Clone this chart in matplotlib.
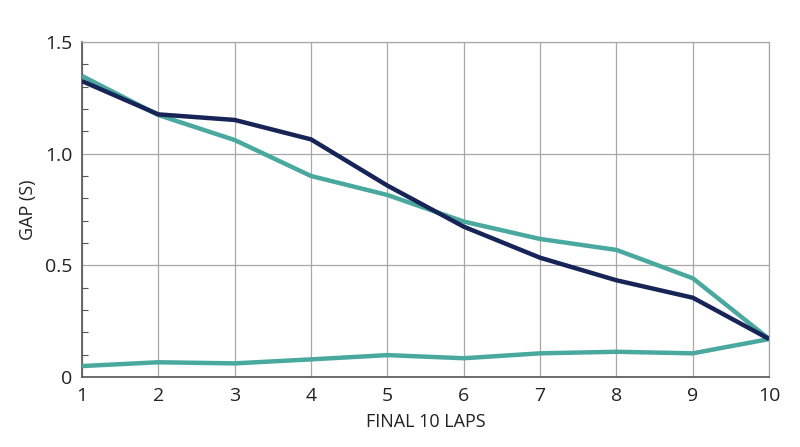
import numpy as np
import matplotlib.pyplot as plt
from matplotlib.ticker import MultipleLocator

plt.rcParams['font.family'] = ['Open Sans', 'DejaVu Sans']

laps = [1, 2, 3, 4, 5, 6, 7, 8, 9, 10]
# navy line
gap_navy = [1.325, 1.176, 1.151, 1.064, 0.857, 0.673, 0.534, 0.433, 0.355, 0.17]
# upper teal line
gap_teal_top = [1.348, 1.173, 1.061, 0.90, 0.815, 0.696, 0.618, 0.569, 0.442, 0.17]
# lower teal line
gap_teal_low = [0.049, 0.066, 0.061, 0.079, 0.098, 0.084, 0.106, 0.113, 0.106, 0.17]

ytick_vals = [0, 0.5, 1.0, 1.5]
ytick_labels = ['0', '0.5', '1.0', '1.5']

navy = '#172458'
teal = '#4aa99e'

fig = plt.figure(figsize=(8, 4.47), dpi=100)
ax = fig.add_axes([0.1025, 0.1566, 0.859, 0.7494])

ax.plot(laps, gap_teal_low, color=teal, lw=3.2, solid_capstyle='butt', zorder=3)
ax.plot(laps, gap_teal_top, color=teal, lw=3.2, solid_capstyle='butt', zorder=3)
ax.plot(laps, gap_navy, color=navy, lw=3.2, solid_capstyle='butt', zorder=4)

ax.set_xlim(1, 10)
ax.set_ylim(0, 1.5)
ax.set_xticks(laps)
ax.set_yticks(ytick_vals)
ax.set_yticklabels(ytick_labels)
ax.yaxis.set_minor_locator(MultipleLocator(0.1))

ax.grid(True, which='major', color='#a8a8a8', lw=0.9)
ax.set_axisbelow(True)

for s in ['top', 'right']:
    ax.spines[s].set_color('#a8a8a8')
    ax.spines[s].set_linewidth(0.9)
for s in ['left', 'bottom']:
    ax.spines[s].set_color('#555555')
    ax.spines[s].set_linewidth(1.2)

ax.tick_params(which='major', length=0, labelsize=14, colors='#222222', pad=7)
ax.tick_params(axis='y', which='minor', direction='in', length=4, color='#555555', width=0.8)
ax.tick_params(axis='x', which='minor', length=0)

ax.set_xlabel('FINAL 10 LAPS', fontsize=13, color='#222222', labelpad=6)
ax.set_ylabel('GAP (S)', fontsize=13, color='#222222', labelpad=6)

fig.savefig('out.png', dpi=100)
